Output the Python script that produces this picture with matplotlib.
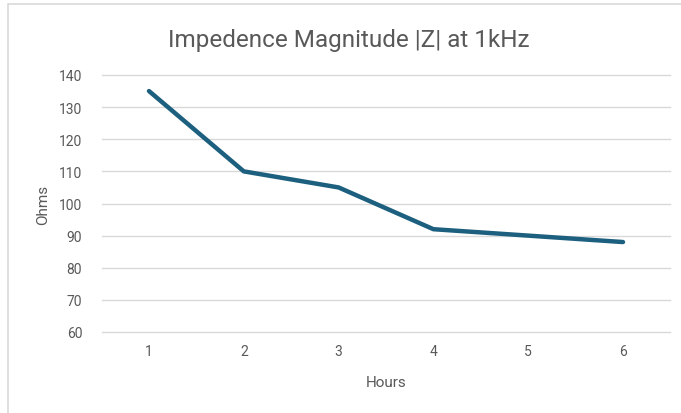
import matplotlib
matplotlib.use("Agg")
import matplotlib.pyplot as plt
from matplotlib.patches import Rectangle

hours = ["1", "2", "3", "4", "5", "6"]
ohms = [135, 110, 105, 92, 90, 88]
yticks = [60, 70, 80, 90, 100, 110, 120, 130, 140]

plt.rcParams['font.family'] = ['Roboto', 'DejaVu Sans']
txt = '#595959'

fig = plt.figure(figsize=(6.81, 4.14), dpi=100)
fig.patches.append(Rectangle((8/681, -0.1), 1.1, 1 - 5/414 + 0.1, transform=fig.transFigure,
                             fill=False, edgecolor='#d9d9d9', linewidth=1.2))
ax = fig.add_axes([101.6/681, 1 - 333/414, (670.4-101.6)/681, (333-76)/414])
x = list(range(len(hours)))
ax.plot(x, ohms, color='#1c5f7e', linewidth=3.2, solid_capstyle='round', solid_joinstyle='round', zorder=3)
ax.set_xlim(-0.5, len(hours) - 0.5)
ax.set_ylim(60, 140)
ax.set_xticks(x)
ax.set_xticklabels(hours)
ax.set_yticks(yticks)
ax.grid(axis='y', color='#d9d9d9', linewidth=1.0)
for gl in ax.get_ygridlines():
    gl.set_clip_on(False)
ax.set_axisbelow(True)
for s in ax.spines.values():
    s.set_visible(False)
ax.tick_params(length=0, colors=txt, labelsize=10)
ax.tick_params(axis='y', pad=14)
ax.tick_params(axis='x', pad=9)
ax.set_xlabel('Hours', color=txt, fontsize=11, labelpad=12)
ax.set_ylabel('Ohms', color=txt, fontsize=11, labelpad=6)
fig.text(349/681, 1 - 40/414, 'Impedence Magnitude |Z| at 1kHz', ha='center', va='center',
         fontsize=17.5, color=txt)
fig.savefig('out.png', dpi=100)
